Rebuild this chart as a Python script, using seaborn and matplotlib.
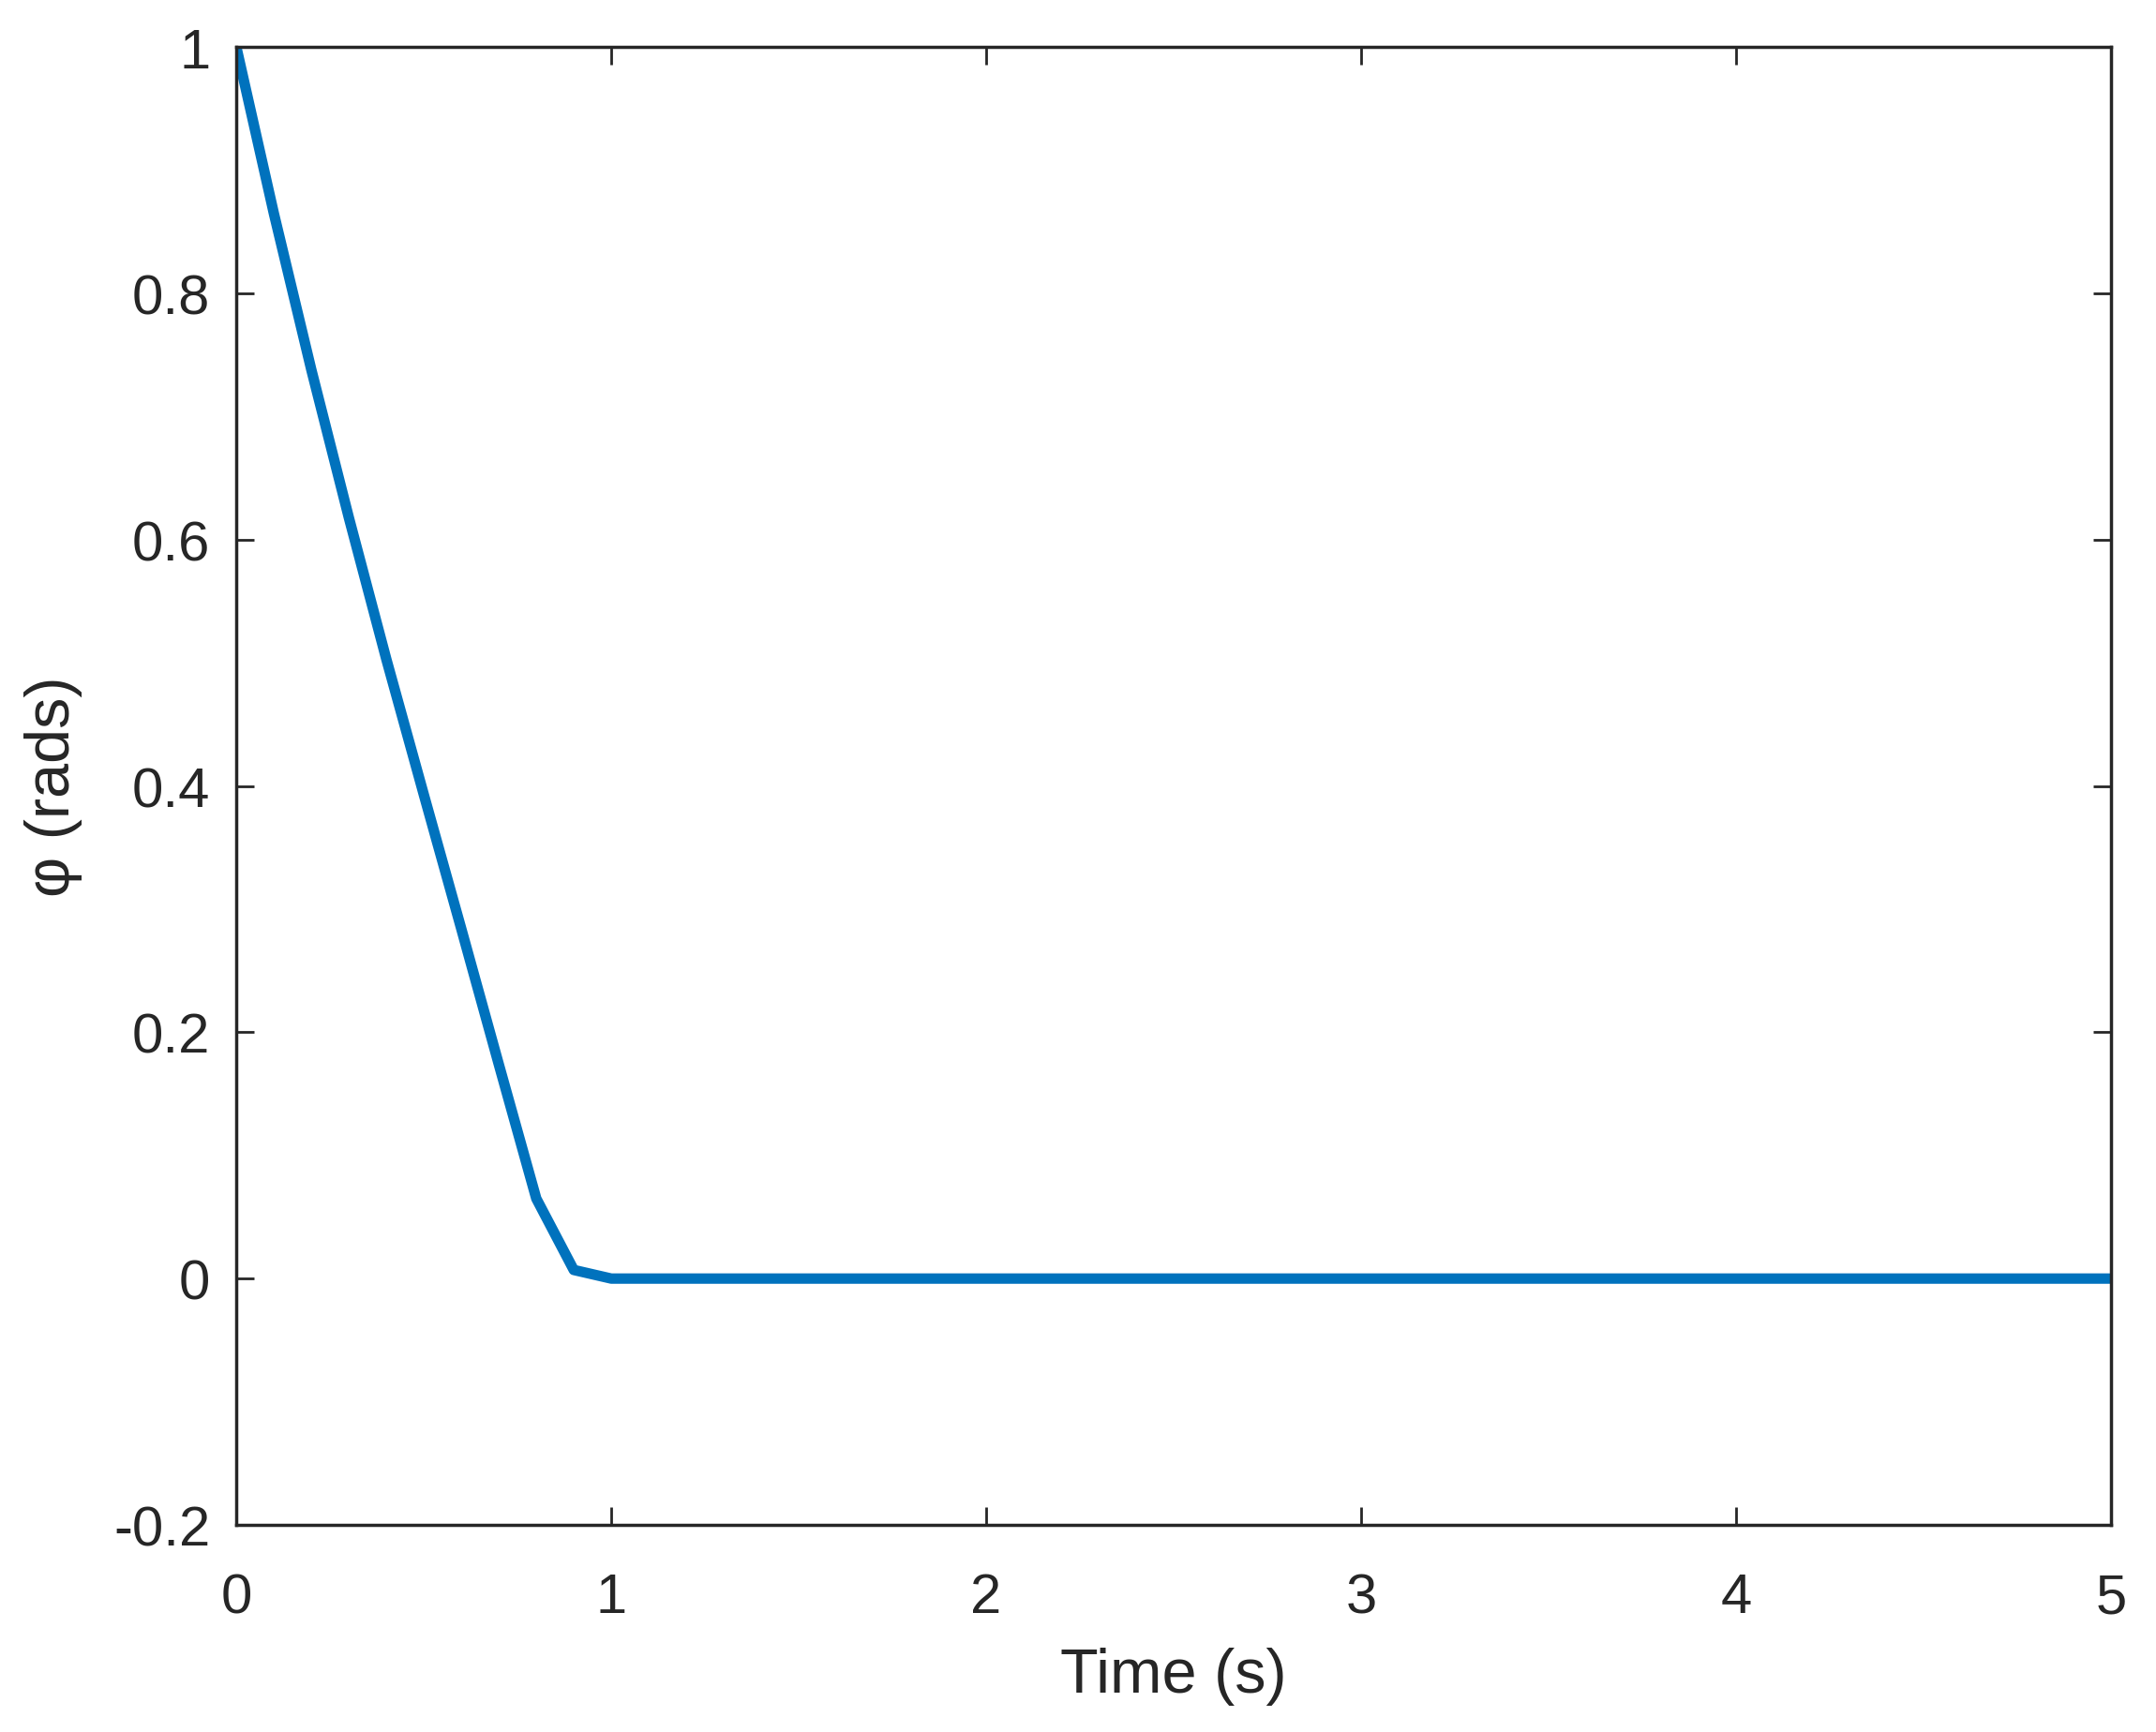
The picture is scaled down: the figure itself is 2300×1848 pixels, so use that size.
import matplotlib
matplotlib.use("Agg")
import matplotlib.pyplot as plt
import seaborn as sns
import numpy as np
import pandas as pd

sns.set_theme(style="ticks")
plt.rcParams['font.family'] = ['Liberation Sans', 'DejaVu Sans']

# Data (phi vs time, 0.1 s steps)
time_s = [0.0, 0.1, 0.2, 0.3, 0.4, 0.5, 0.6, 0.7, 0.8, 0.9, 1.0,
          1.5, 2.0, 2.5, 3.0, 3.5, 4.0, 4.5, 5.0]
phi_rads = [1.0, 0.865, 0.738, 0.618, 0.503, 0.393, 0.284, 0.174, 0.065, 0.007, 0.0,
            0.0, 0.0, 0.0, 0.0, 0.0, 0.0, 0.0, 0.0]

xticks = [0, 1, 2, 3, 4, 5]
xtick_labels = ['0', '1', '2', '3', '4', '5']
yticks = [-0.2, 0, 0.2, 0.4, 0.6, 0.8, 1]
ytick_labels = ['-0.2', '0', '0.2', '0.4', '0.6', '0.8', '1']

df = pd.DataFrame({'Time': time_s, 'Phi': phi_rads})

axis_col = '#262626'
fig = plt.figure(figsize=(23, 18.49), dpi=100)
ax = fig.add_axes([0.1096, 0.1195, 0.8696, 0.8529])

sns.lineplot(data=df, x='Time', y='Phi', ax=ax, color='#0072BD', linewidth=8)

ax.set_xlim(0, 5)
ax.set_ylim(-0.2, 1)
ax.set_xticks(xticks)
ax.set_xticklabels(xtick_labels)
ax.set_yticks(yticks)
ax.set_yticklabels(ytick_labels)

ax.tick_params(direction='in', length=14, width=2, colors=axis_col,
               labelsize=43, top=True, right=True, pad=20)
ax.tick_params(axis='x', pad=36)
for s in ax.spines.values():
    s.set_linewidth(2.5)
    s.set_color(axis_col)
    s.set_visible(True)

ax.set_xlabel('Time (s)', fontsize=48, color=axis_col, labelpad=18)
ax.set_ylabel('φ (rads)', fontsize=48, color=axis_col, labelpad=24)
ax.grid(False)

fig.savefig('out.png', dpi=100, facecolor='white')
